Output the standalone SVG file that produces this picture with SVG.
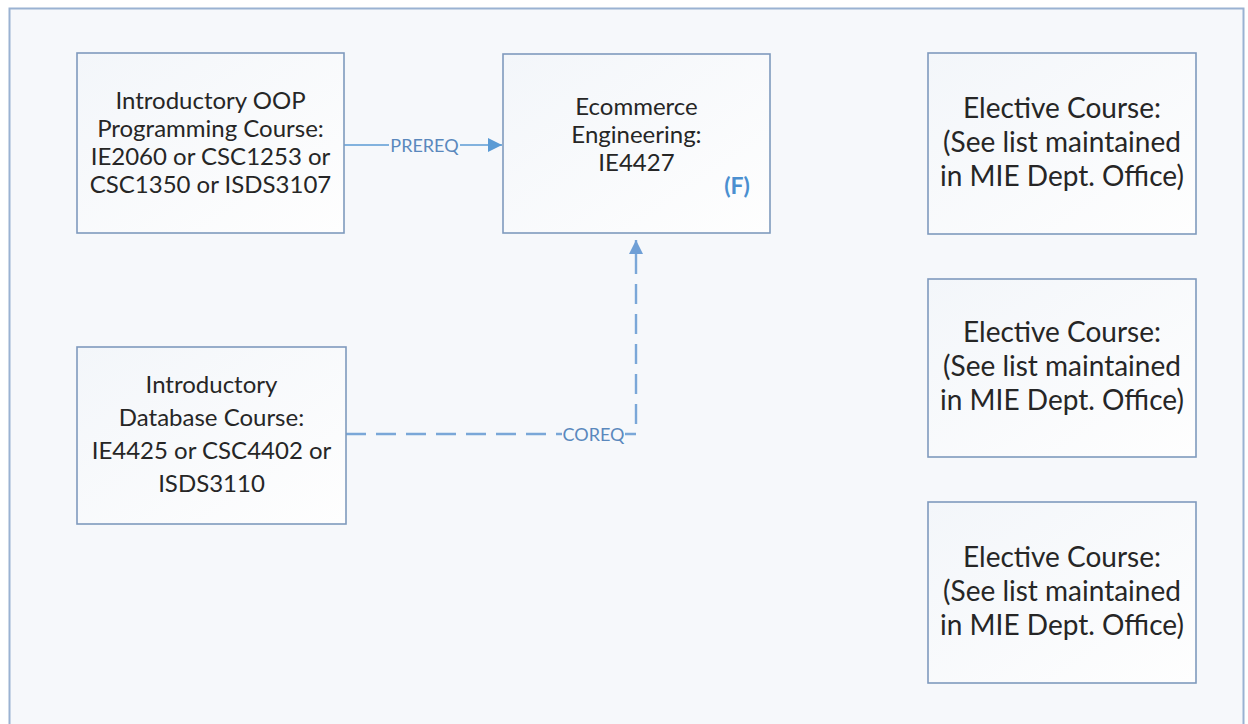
<svg xmlns="http://www.w3.org/2000/svg" width="1248" height="724" viewBox="0 0 1248 724">
<defs>
<style>
.frame{fill:#f6f8fb;stroke:#9ab2d2;stroke-width:2}
.box{fill:url(#bg);stroke:#7f9abd;stroke-width:1.6}
.t{font-family:Lato,"Liberation Sans",sans-serif;font-size:24px;fill:#262626;text-anchor:middle}
.te{font-family:Lato,"Liberation Sans",sans-serif;font-size:28px;fill:#262626;text-anchor:middle}
.lbl{font-family:Lato,"Liberation Sans",sans-serif;font-size:18px;fill:#5a88bd;text-anchor:middle}
.lblbg{fill:#f6f8fb}
.f{font-family:Lato,"Liberation Sans",sans-serif;font-size:23px;font-weight:bold;fill:#4b8fd0;text-anchor:middle}
.c{fill:none;stroke:#5b9bd5;stroke-width:1.6}
.d{fill:none;stroke:#7aa7d8;stroke-width:2.4;stroke-dasharray:20 10}
</style>
<linearGradient id="bg" x1="0" y1="0" x2="1" y2="1">
<stop offset="0" stop-color="#f3f6fa"/>
<stop offset="1" stop-color="#fefefe"/>
</linearGradient>
<marker id="ah" viewBox="0 0 10 10" refX="10" refY="5" markerWidth="14" markerHeight="14" markerUnits="userSpaceOnUse" orient="auto">
<path d="M0,0 L10,5 L0,10 z" fill="#5b9bd5"/>
</marker>
<marker id="ahd" viewBox="0 0 10 10" refX="10" refY="5" markerWidth="14" markerHeight="14" markerUnits="userSpaceOnUse" orient="auto">
<path d="M0,0 L10,5 L0,10 z" fill="#6f9fd6"/>
</marker>
</defs>
<rect x="0" y="0" width="1248" height="724" fill="#ffffff"/>
<rect class="frame" x="9.5" y="8.5" width="1234" height="740"/>

<g id="connectors">
<path class="c" d="M344,145 H502" marker-end="url(#ah)"/>
<rect class="lblbg" x="389" y="134" width="71" height="22"/>
<text class="lbl" x="424.5" y="151.5">PREREQ</text>
<path class="d" d="M346,434 H636 V240" marker-end="url(#ahd)"/>
<rect class="lblbg" x="562" y="423" width="63" height="22"/>
<text class="lbl" x="593.5" y="440.5">COREQ</text>
</g>

<g id="oop">
<rect class="box" x="77" y="53" width="267" height="180"/>
<text class="t" x="210.5" y="109">Introductory OOP</text>
<text class="t" x="210.5" y="137">Programming Course:</text>
<text class="t" x="210.5" y="165">IE2060 or CSC1253 or</text>
<text class="t" x="210.5" y="193">CSC1350 or ISDS3107</text>
</g>

<g id="db">
<rect class="box" x="77" y="347" width="269" height="177"/>
<text class="t" x="211.5" y="393">Introductory</text>
<text class="t" x="211.5" y="426">Database Course:</text>
<text class="t" x="211.5" y="459">IE4425 or CSC4402 or</text>
<text class="t" x="211.5" y="492">ISDS3110</text>
</g>

<g id="ecommerce">
<rect class="box" x="503" y="54" width="267" height="179"/>
<text class="t" x="636.5" y="115">Ecommerce</text>
<text class="t" x="636.5" y="143">Engineering:</text>
<text class="t" x="636.5" y="171">IE4427</text>
<text class="f" x="737" y="194">(F)</text>
</g>

<g id="elective1">
<rect class="box" x="928" y="53" width="268" height="181"/>
<text class="te" x="1062" y="118">Elective Course:</text>
<text class="te" x="1062" y="152">(See list maintained</text>
<text class="te" x="1062" y="186">in MIE Dept. Office)</text>
</g>

<g id="elective2">
<rect class="box" x="928" y="279" width="268" height="178"/>
<text class="te" x="1062" y="342">Elective Course:</text>
<text class="te" x="1062" y="376">(See list maintained</text>
<text class="te" x="1062" y="410">in MIE Dept. Office)</text>
</g>

<g id="elective3">
<rect class="box" x="928" y="502" width="268" height="181"/>
<text class="te" x="1062" y="567">Elective Course:</text>
<text class="te" x="1062" y="601">(See list maintained</text>
<text class="te" x="1062" y="635">in MIE Dept. Office)</text>
</g>
</svg>
